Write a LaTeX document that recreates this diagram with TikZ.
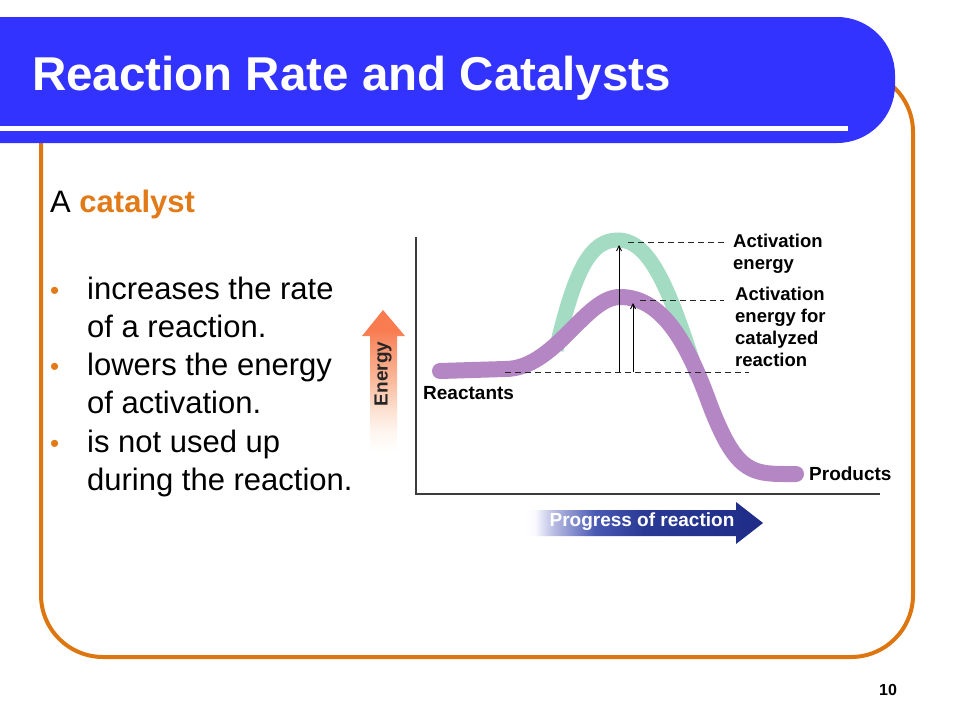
\documentclass[tikz,border=0pt]{standalone}
\usepackage{fontspec}
\setmainfont{Liberation Sans}
\usetikzlibrary{arrows.meta}
\definecolor{bannerblue}{RGB}{51,51,255}
\definecolor{frameorange}{RGB}{222,118,16}
\definecolor{catorange}{RGB}{226,122,24}
\definecolor{purplecurve}{RGB}{180,134,196}
\definecolor{greencurve}{RGB}{163,220,194}
\definecolor{pgA}{RGB}{250,250,254}
\definecolor{pgB}{RGB}{184,188,226}
\definecolor{pgC}{RGB}{74,90,180}
\definecolor{pgD}{RGB}{42,58,148}
\definecolor{pgE}{RGB}{30,44,136}
\definecolor{enA}{RGB}{254,244,238}
\definecolor{enB}{RGB}{252,224,208}
\definecolor{enC}{RGB}{250,184,154}
\definecolor{enD}{RGB}{248,144,106}
\definecolor{enE}{RGB}{249,123,80}
\definecolor{axisgray}{RGB}{60,60,60}
\pgfdeclarehorizontalshading{progshade}{100bp}{color(0bp)=(white); color(25bp)=(white); color(27bp)=(pgA); color(31bp)=(pgB); color(39.7bp)=(pgC); color(50bp)=(pgD); color(75bp)=(pgE); color(100bp)=(pgE)}
\pgfdeclareverticalshading{energyshade}{100bp}{color(0bp)=(white); color(25bp)=(white); color(32.8bp)=(enA); color(40bp)=(enB); color(50.5bp)=(enC); color(63bp)=(enD); color(68bp)=(enE); color(100bp)=(enE)}
\begin{document}
\begin{tikzpicture}[x=1pt,y=1pt,
  bodytext/.style={anchor=base west,inner sep=0pt,font=\fontsize{31}{36}\selectfont},
  bulletmark/.style={anchor=base west,inner sep=0pt,text=catorange,font=\fontsize{26}{36}\selectfont},
  chartlabel/.style={anchor=north west,inner sep=0pt,align=left,font=\bfseries\fontsize{18.5}{22}\selectfont},
  dashline/.style={draw=black!85,line width=0.9pt,dash pattern=on 6pt off 4pt},
  valarrow/.style={draw=black,line width=0.9pt,-{Straight Barb[length=5pt,width=5pt]}},
  curveline/.style={line width=16pt,line cap=round}]
\useasboundingbox (0,0) rectangle (960,-720);
\fill[white] (0,0) rectangle (960,-720);

% frame
\draw[frameorange,line width=4pt,rounded corners=62] (41,-70) rectangle (913,-657);

% banner
\fill[bannerblue,rounded corners=58] (-80,-17) rectangle (895,-143);
\fill[white] (0,-126) rectangle (848,-130.5);
\node[anchor=base west,inner sep=0pt,text=white,font=\bfseries\fontsize{47.5}{56}\selectfont] (title) at (32,-90) {Reaction Rate and Catalysts};

% left text
\node[bodytext] (intro) at (50,-212) {A \textbf{\textcolor{catorange}{catalyst}}};
\node[bulletmark] (b1) at (50,-299) {•};
\node[bodytext] (l1) at (87,-299) {increases the rate};
\node[bodytext] (l2) at (87,-337.5) {of a reaction.};
\node[bulletmark] (b2) at (50,-375) {•};
\node[bodytext] (l3) at (87,-375) {lowers the energy};
\node[bodytext] (l4) at (87,-413.5) {of activation.};
\node[bulletmark] (b3) at (50,-452) {•};
\node[bodytext] (l5) at (87,-452) {is not used up};
\node[bodytext] (l6) at (87,-490.5) {during the reaction.};

% axes
\coordinate (ytop) at (416,-237);
\coordinate (origin) at (416,-494);
\coordinate (xend) at (880,-494);
\draw[axisgray,line width=1.3pt] (ytop) -- (origin) -- (xend);

% energy arrow
\shade[shading=energyshade] (383,-310) -- (405,-336) -- (397,-336) -- (397,-452) -- (370,-452) -- (370,-336) -- (362,-336) -- cycle;
\node[rotate=90,inner sep=0pt,font=\bfseries\fontsize{19}{22}\selectfont,text=black!85] (energy) at (383,-374) {Energy};

% progress arrow
\shade[shading=progshade] (525,-510) -- (736,-510) -- (736,-502) -- (763,-523) -- (736,-544) -- (736,-536) -- (525,-536) -- cycle;
\node[inner sep=0pt,text=white,font=\bfseries\fontsize{19}{22}\selectfont] (progress) at (642,-522) {Progress of reaction};

% curves
\draw[greencurve,line width=15pt] (556,-350) .. controls (575,-270) and (590,-240) .. (618,-240) .. controls (650,-240) and (670,-290) .. (697,-375);
\draw[purplecurve,curveline] (440,-371) -- (505,-369) .. controls (555,-369) and (585,-297) .. (620,-297) .. controls (665,-297) and (690,-350) .. (710,-405) .. controls (735,-470) and (750,-474) .. (785,-474) -- (796,-474);

% dashed guides
\coordinate (d1a) at (628,-242); \coordinate (d1b) at (727,-242);
\coordinate (d2a) at (640,-300); \coordinate (d2b) at (724,-300);
\coordinate (d3a) at (505,-372); \coordinate (d3b) at (749,-372);
\draw[dashline] (d1a) -- (d1b);
\draw[dashline] (d2a) -- (d2b);
\draw[dashline] (d3a) -- (d3b);

% activation arrows
\coordinate (a1s) at (619,-372); \coordinate (a1e) at (619,-245);
\coordinate (a2s) at (633,-372); \coordinate (a2e) at (633,-303);
\draw[valarrow] (a1s) -- (a1e);
\draw[valarrow] (a2s) -- (a2e);

% labels
\node[chartlabel] (lab1) at (733,-234) {Activation\\energy};
\node[chartlabel] (lab2) at (735,-287) {Activation\\energy for\\catalyzed\\reaction};
\node[anchor=west,inner sep=0pt,font=\bfseries\fontsize{19}{22}\selectfont] (reactants) at (423,-393) {Reactants};
\node[anchor=west,inner sep=0pt,font=\bfseries\fontsize{19}{22}\selectfont] (products) at (809,-474) {Products};

% page number
\node[inner sep=0pt,font=\bfseries\fontsize{16}{18}\selectfont] (pagenum) at (888,-690) {10};
\end{tikzpicture}
\end{document}
